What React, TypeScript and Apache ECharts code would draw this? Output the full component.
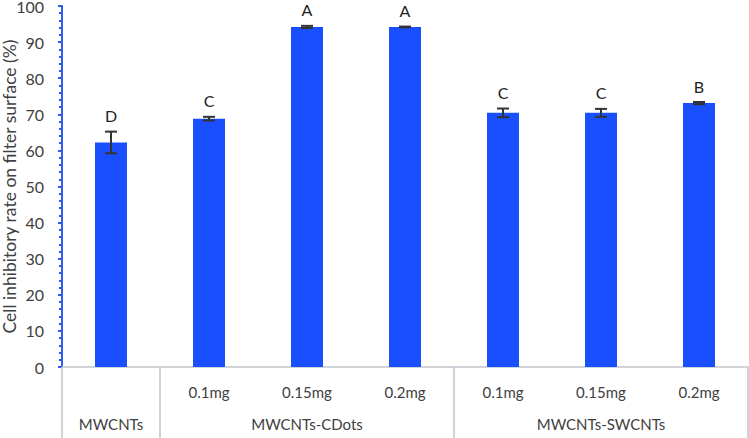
import React, { useEffect, useRef } from "react";
import * as echarts from "echarts";

const subLabels = ["", "0.1mg", "0.15mg", "0.2mg", "0.1mg", "0.15mg", "0.2mg"];
const groupLabels = ["MWCNTs", "", "MWCNTs-CDots", "", "", "MWCNTs-SWCNTs", ""];
const groupStarts = [0, 1, 4];
const values = [62.2, 68.8, 94.2, 94.2, 70.4, 70.4, 73.1];
const errors = [3.0, 0.5, 0.3, 0.1, 1.2, 1.1, 0.3];
const letters = ["D", "C", "A", "A", "C", "C", "B"];
const yTicks = { min: 0, max: 100, interval: 10 };

const FONT = "Lato";
const TEXT = "#404040";
const BAR = "#1A4FFF";
const AXIS_BLUE = "#2F5BF0";
const GREY = "#BFC6CC";

export default function App() {
  const ref = useRef<HTMLDivElement>(null);
  useEffect(() => {
    if (!ref.current) return;
    const chart = echarts.init(ref.current, null, { renderer: "svg" });
    const errData = values.map((v, i) => [i, v, errors[i], letters[i]]);
    chart.setOption({
      animation: false,
      textStyle: { fontFamily: FONT },
      grid: { left: 62, right: 1, top: 6, bottom: 71, containLabel: false, outerBoundsMode: "none" },
      xAxis: [
        {
          type: "category",
          data: subLabels,
          position: "bottom",
          axisLine: { show: true, lineStyle: { color: GREY, width: 1.5 } },
          axisTick: {
            show: true,
            length: 71,
            interval: (i: number) => groupStarts.includes(i),
            lineStyle: { color: GREY, width: 1.5 },
          },
          axisLabel: {
            interval: 0,
            margin: 17,
            color: TEXT,
            fontSize: 15,
            fontFamily: FONT,
          },
        },
        {
          type: "category",
          data: groupLabels,
          position: "bottom",
          axisLine: { show: false },
          axisTick: { show: false },
          axisLabel: {
            interval: 0,
            margin: 49,
            color: TEXT,
            fontSize: 15,
            fontFamily: FONT,
          },
        },
      ],
      yAxis: {
        type: "value",
        min: yTicks.min,
        max: yTicks.max,
        interval: yTicks.interval,
        name: "Cell inhibitory rate on filter surface (%)",
        nameLocation: "middle",
        nameGap: 44,
        nameMoveOverlap: false,
        nameTextStyle: { color: TEXT, fontSize: 17.5, fontFamily: FONT },
        axisLine: { show: true, lineStyle: { color: AXIS_BLUE, width: 2 } },
        axisTick: { show: true, length: 4, lineStyle: { color: AXIS_BLUE, width: 2 } },
        minorTick: { show: true, splitNumber: 5, length: 3, lineStyle: { color: AXIS_BLUE, width: 2 } },
        splitLine: { show: false },
        axisLabel: { color: TEXT, fontSize: 16, lineHeight: 12, margin: 18, fontFamily: FONT },
      },
      series: [
        {
          type: "bar",
          data: values,
          barWidth: 32,
          itemStyle: { color: BAR },
          xAxisIndex: 0,
        },
        {
          type: "custom",
          xAxisIndex: 0,
          data: errData,
          z: 10,
          renderItem: (params: any, api: any) => {
            const x = api.value(0);
            const v = api.value(1);
            const e = api.value(2);
            const letter = letters[params.dataIndex];
            const top = api.coord([x, v + e]);
            const bot = api.coord([x, v - e]);
            const half = 6;
            const style = { stroke: "#333333", lineWidth: 2 };
            return {
              type: "group",
              children: [
                { type: "line", shape: { x1: top[0], y1: top[1], x2: bot[0], y2: bot[1] }, style },
                { type: "line", shape: { x1: top[0] - half, y1: top[1], x2: top[0] + half, y2: top[1] }, style },
                { type: "line", shape: { x1: bot[0] - half, y1: bot[1], x2: bot[0] + half, y2: bot[1] }, style },
                {
                  type: "text",
                  style: {
                    text: letter,
                    x: top[0],
                    y: top[1] - 16,
                    align: "center",
                    verticalAlign: "middle",
                    fill: "#222222",
                    fontSize: 16,
                    fontFamily: FONT,
                  },
                },
              ],
            };
          },
        },
      ],
    });
    return () => chart.dispose();
  }, []);
  return (
    <div
      ref={ref}
      style={{ position: "fixed", left: 0, top: 0, width: 749, height: 438, background: "#fff" }}
    />
  );
}
